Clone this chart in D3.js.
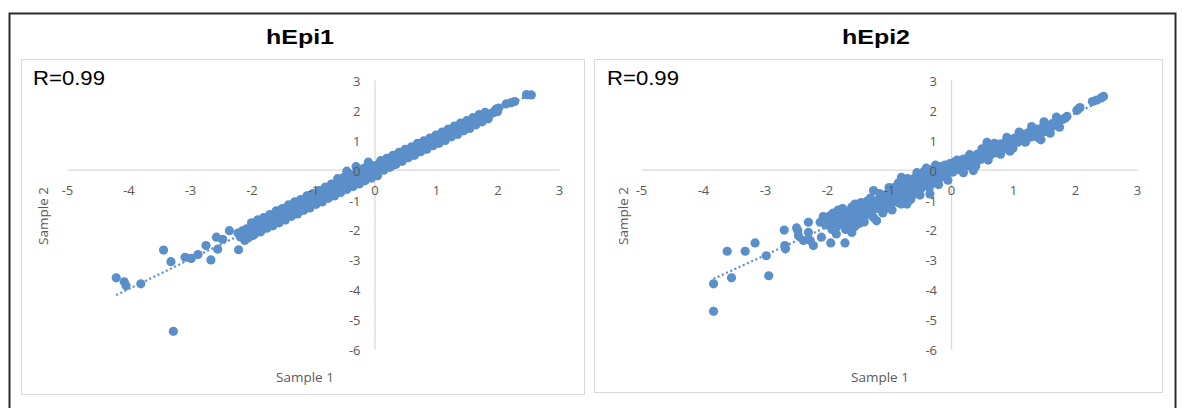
<!DOCTYPE html>
<meta charset="utf-8">
<style>
  body { margin: 0; background: #ffffff; }
  .ttl { font-family: "Liberation Sans", Arial, sans-serif; font-weight: bold; fill: #000; }
  .rlab { font-family: "Liberation Sans", Arial, sans-serif; fill: #000; }
  .axis text { font-family: "Open Sans", sans-serif; font-size: 13px; fill: #595959; }
  .axis .domain { stroke: #d9d9d9; stroke-width: 1.3; }
  .atitle { font-family: "Open Sans", sans-serif; font-size: 13.5px; fill: #595959; }
</style>
<body>
<script src="https://d3js.org/d3.v7.min.js"></script>
<script>
// tick labels
var xTicks = [-5, -4, -3, -2, -1, 0, 1, 2, 3];
var yTicks = [3, 2, 1, 0, -1, -2, -3, -4, -5, -6];
var panelTitles = ["hEpi1", "hEpi2"];
var rLabels = ["R=0.99", "R=0.99"];

// sample 1 vs sample 2
var hEpi1Points = [
  [-4.2,-3.62],[-4.07,-3.75],[-4.04,-3.88],[-3.8,-3.82],[-3.43,-2.69],[-3.31,-3.08],
  [-3.27,-5.41],[-3.08,-2.93],[-2.98,-2.97],[-2.87,-2.84],[-2.74,-2.54],[-2.66,-3.02],
  [-2.57,-2.26],[-2.55,-2.66],[-2.47,-2.33],[-2.36,-2.04],[-2.21,-2.68],[-2.11,-2.37],
  [-1.98,-2.2],
  [-2.22,-2.12],[-2.18,-2.25],[-2.15,-2.05],[-2.12,-2.18],[-2.08,-1.98],[-2.05,-2.1],
  [-2.02,-2.22],[-1.98,-1.92],[-1.95,-2.04],[-1.92,-1.88],[-1.88,-1.98],[-1.85,-1.82],
  [-1.82,-1.93],[-1.78,-1.74],[-1.75,-1.86],[-1.72,-1.7],[-1.7,-1.62],[-1.68,-1.8],
  [-1.65,-1.66],[-1.62,-1.55],[-1.6,-1.72],[-1.57,-1.6],[-1.55,-1.48],[-1.52,-1.62],
  [-1.5,-1.54],[-1.47,-1.42],[-1.45,-1.56],[-1.42,-1.38],[-1.4,-1.5],[-1.37,-1.3],
  [-1.35,-1.44],[-1.32,-1.34],[-1.3,-1.24],[-1.27,-1.38],[-1.25,-1.2],[-1.22,-1.3],
  [-1.2,-1.16],[-1.17,-1.26],[-1.15,-1.1],[-1.12,-1.2],[-1.1,-1.04],[-1.07,-1.16],
  [-1.05,-1.0],[-1.02,-1.08],[-1.0,-0.96],[-0.98,-1.05],[-0.95,-0.9],[-0.92,-1.0],
  [-0.9,-0.84],[-0.88,-0.95],[-0.85,-0.8],[-0.82,-0.9],[-0.8,-0.76],[-0.78,-0.86],
  [-0.75,-0.7],[-0.72,-0.8],[-0.7,-0.64],[-0.68,-0.76],[-0.65,-0.6],[-0.62,-0.7],
  [-0.6,-0.54],[-0.58,-0.66],[-0.55,-0.48],[-0.52,-0.6],[-0.5,-0.42],[-0.48,-0.55],
  [-0.45,-0.36],[-0.42,-0.5],[-0.4,-0.3],[-0.38,-0.45],[-0.35,-0.22],[-0.32,-0.4],
  [-0.3,-0.12],[-0.28,-0.34],[-0.25,-0.05],[-0.22,-0.28],[-0.2,0.02],[-0.18,-0.2],
  [-0.15,0.06],[-0.12,-0.14],[-0.1,0.1],[-0.08,-0.06],[-0.05,0.14],[-0.02,0.02],
  [-0.3,0.1],[-0.1,0.25],[0.05,-0.2],[-0.45,-0.05],[0.15,0.0],[0.3,0.15],[-0.6,-0.3],[-0.2,-0.4],
  [0.0,0.12],[0.02,-0.02],[0.05,0.16],[0.08,0.04],[0.1,0.2],[0.12,0.08],[0.15,0.24],
  [0.18,0.12],[0.2,0.28],[0.22,0.16],[0.25,0.32],[0.28,0.2],[0.3,0.36],[0.33,0.26],
  [0.35,0.42],[0.38,0.3],[0.4,0.46],[0.43,0.36],[0.45,0.5],[0.48,0.4],[0.5,0.56],
  [0.53,0.46],[0.55,0.6],[0.58,0.5],[0.6,0.66],[0.63,0.56],[0.65,0.7],[0.68,0.6],
  [0.7,0.76],[0.73,0.66],[0.75,0.8],[0.78,0.7],[0.8,0.86],[0.83,0.76],[0.85,0.9],
  [0.88,0.8],[0.9,0.96],[0.93,0.86],[0.95,1.0],[0.98,0.9],[1.0,1.06],[1.03,0.96],
  [1.05,1.1],[1.08,1.0],[1.1,1.16],[1.13,1.06],[1.15,1.18],[1.18,1.1],[1.2,1.24],
  [1.23,1.14],[1.25,1.28],[1.28,1.2],[1.3,1.32],[1.33,1.24],[1.35,1.38],[1.38,1.28],
  [1.4,1.42],[1.43,1.34],[1.45,1.46],[1.48,1.38],[1.5,1.5],[1.53,1.44],[1.55,1.55],
  [1.58,1.5],[1.6,1.6],[1.63,1.54],[1.66,1.66],[1.7,1.64],[1.73,1.72],[1.76,1.7],
  [1.8,1.78],[1.84,1.8],[1.88,1.86],[1.92,1.9],[1.95,1.96],[1.98,2.03],[2.0,1.94],
  [2.02,2.06],[2.14,2.2],[2.22,2.24],[2.28,2.28],[2.47,2.51],[2.55,2.5],
  // upper and lower edge of the band
  [-2.0,-1.78],[-1.9,-1.68],[-1.8,-1.6],[-1.7,-1.5],[-1.6,-1.38],[-1.5,-1.3],[-1.4,-1.18],
  [-1.3,-1.08],[-1.2,-1.0],[-1.1,-0.88],[-1.0,-0.8],[-0.9,-0.7],[-0.8,-0.58],[-0.7,-0.48],
  [-0.6,-0.38],[-0.5,-0.26],[-0.4,-0.16],
  [-2.05,-2.28],[-1.95,-2.16],[-1.85,-2.08],[-1.75,-1.96],[-1.65,-1.88],[-1.55,-1.78],
  [-1.45,-1.68],[-1.35,-1.56],[-1.25,-1.48],[-1.15,-1.36],[-1.05,-1.28],[-0.95,-1.16],
  [-0.85,-1.08],[-0.75,-0.96],[-0.65,-0.88],[-0.55,-0.76],[-0.45,-0.66],[-0.35,-0.56],
  [-0.25,-0.48],[-0.15,-0.36],[-0.05,-0.28],
  [0.1,0.3],[0.2,0.38],[0.3,0.48],[0.4,0.58],[0.5,0.68],[0.6,0.76],[0.7,0.88],[0.8,0.96],
  [0.9,1.06],[1.0,1.16],[1.1,1.26],[1.2,1.36],[1.3,1.46],[1.4,1.56],[1.5,1.64],[1.6,1.74],
  [1.7,1.84],[1.8,1.92],
  [0.05,-0.12],[0.15,-0.02],[0.25,0.08],[0.35,0.18],[0.45,0.28],[0.55,0.4],[0.65,0.48],
  [0.75,0.6],[0.85,0.68],[0.95,0.8],[1.05,0.88],[1.15,0.98],[1.25,1.1],[1.35,1.18],
  [1.45,1.3],[1.55,1.38],[1.65,1.5],[1.75,1.6],[1.85,1.7]
];

var hEpi2Points = [
  [-3.83,-4.74],[-3.83,-3.82],[-3.54,-3.62],[-3.61,-2.73],[-3.32,-2.73],[-3.16,-2.45],
  [-2.98,-2.88],[-2.94,-3.55],[-2.69,-2.02],[-2.68,-2.54],[-2.67,-2.65],[-2.49,-1.95],
  [-2.46,-2.21],[-2.38,-2.37],[-2.3,-1.76],[-2.3,-2.1],[-2.22,-2.54],[-2.27,-2.37],
  [-2.09,-2.26],[-1.94,-2.45],[-1.71,-2.45],[-1.6,-2.1],[-2.11,-1.76],[-2.47,-2.04],
  [-2.06,-1.57],[-2.02,-1.85],[-1.98,-1.68],[-1.95,-1.54],[-1.92,-2.0],[-1.9,-1.78],
  [-1.86,-1.62],[-1.84,-1.9],[-1.82,-1.35],[-1.8,-1.7],[-1.76,-1.82],[-1.74,-1.5],
  [-1.7,-1.62],[-1.68,-1.92],[-1.65,-1.4],[-1.62,-1.74],[-1.58,-1.55],[-1.55,-1.15],
  [-1.52,-1.64],[-1.5,-1.38],[-1.48,-1.8],[-1.45,-1.45],[-1.42,-1.25],[-1.4,-1.6],
  [-1.37,-1.35],[-1.35,-1.05],[-1.32,-1.48],[-1.3,-1.2],[-1.28,-1.4],[-1.25,-0.7],
  [-1.24,-1.1],[-1.2,-1.71],[-1.2,-1.3],[-1.17,-1.0],[-1.15,-1.2],[-1.12,-0.9],
  [-1.1,-1.1],[-1.08,-1.34],[-1.05,-0.85],[-1.02,-1.05],[-1.0,-0.75],[-0.98,-1.2],
  [-0.95,-0.92],[-0.92,-0.6],[-0.9,-1.0],[-0.88,-0.8],[-0.85,-1.1],[-0.82,-0.55],
  [-0.8,-0.26],[-0.8,-0.88],[-0.78,-0.7],[-0.75,-1.0],[-0.72,-0.5],[-0.71,-1.15],
  [-0.7,-0.78],[-0.67,-0.4],[-0.65,-0.62],[-0.62,-0.85],[-0.6,-0.3],[-0.58,-0.55],
  [-0.55,-0.72],[-0.52,-0.2],[-0.5,-0.45],[-0.48,-0.62],[-0.45,-0.09],[-0.42,-0.3],
  [-0.4,-0.5],[-0.38,-0.15],[-0.35,-0.38],[-0.34,-0.81],[-0.32,0.0],[-0.3,-0.22],
  [-0.28,-0.45],[-0.25,0.05],[-0.22,-0.15],[-0.2,-0.32],[-0.18,0.1],[-0.15,-0.05],
  [-0.12,-0.22],[-0.1,0.15],[-0.08,0.02],[-0.05,-0.12],[-0.02,0.2],[0.0,0.05],
  [0.03,-0.08],[0.05,0.25],[0.08,0.12],[0.1,0.0],[0.12,0.3],[0.15,0.18],[0.18,0.08],
  [0.2,0.35],[0.22,0.22],[0.25,0.12],[0.28,0.4],[0.3,0.28],[0.33,0.2],[0.36,-0.03],
  [0.36,0.45],[0.38,0.34],[0.4,0.28],[0.43,0.52],[0.45,0.42],[0.48,0.34],[0.5,0.58],
  [0.52,0.48],[0.55,0.42],[0.58,0.91],[0.58,0.64],[0.6,0.54],[0.63,0.48],[0.65,0.72],
  [0.68,0.62],[0.7,0.56],[0.72,0.78],[0.75,0.68],[0.78,0.64],[0.8,0.86],[0.82,0.76],
  [0.85,0.7],[0.88,0.92],[0.9,0.84],[0.93,0.78],[0.95,1.0],[0.98,0.9],[1.0,0.86],
  [1.03,1.06],[1.05,0.98],[1.08,0.92],[1.1,1.12],[1.13,1.04],[1.15,0.98],[1.18,1.18],
  [1.2,1.1],[1.23,1.04],[1.25,1.24],[1.28,1.16],[1.3,1.1],[1.33,1.3],[1.35,1.22],
  [1.38,1.16],[1.4,1.36],[1.43,1.28],[1.45,1.22],[1.48,1.42],[1.5,1.34],[1.53,1.28],
  [1.55,1.48],[1.58,1.4],[1.6,1.36],[1.63,1.54],[1.66,1.48],[1.7,1.6],[1.73,1.54],
  [1.76,1.66],[1.8,1.68],[1.84,1.72],[1.87,1.78],[2.03,1.98],[2.08,2.08],[2.05,2.02],
  [2.28,2.28],[2.35,2.33],[2.42,2.4],[2.46,2.45],
  // wider spread of the band
  [-1.9,-1.45],[-1.75,-1.3],[-1.6,-1.25],[-1.45,-1.1],[-1.3,-0.95],[-1.15,-0.8],[-1.0,-0.6],
  [-0.85,-0.45],[-0.7,-0.3],[-0.55,-0.1],[-0.4,0.05],[-0.25,0.15],
  [-1.85,-2.15],[-1.7,-2.0],[-1.55,-1.9],[-1.4,-1.75],[-1.25,-1.6],[-1.1,-1.45],[-0.95,-1.35],
  [-0.8,-1.15],[-0.65,-1.0],[-0.5,-0.85],[-0.35,-0.6],[-0.2,-0.5],[-0.05,-0.35],
  [0.1,0.32],[0.3,0.5],[0.5,0.7],[0.7,0.88],[0.9,1.08],[1.1,1.26],[1.3,1.44],[1.5,1.6],
  [1.7,1.76],[0.2,-0.1],[0.4,0.12],[0.6,0.32],[0.8,0.52],[1.0,0.72],[1.2,0.92],[1.4,1.08],
  [1.6,1.22],[1.75,1.42],[0.95,0.62],[1.45,1.0]
];

var panelData = [hEpi1Points, hEpi2Points];

var W = 1182, H = 408;
var dotColor = "#5b8fca";

// layout of the two chart boxes
var panels = [
  { box: [21, 59, 584, 394], xr: [67, 559], titleX: 300, rX: 33, xTitleX: 305, yTitleX: 48 },
  { box: [594, 59, 1162, 392], xr: [641, 1137], titleX: 876, rX: 607, xTitleX: 880, yTitleX: 628 }
];

var svg = d3.select("body").append("svg")
    .attr("width", W)
    .attr("height", H);

svg.append("rect")
    .attr("x", 9.5).attr("y", 13.5)
    .attr("width", 1166).attr("height", 430)
    .attr("fill", "#fff")
    .attr("stroke", "#2b2b2b")
    .attr("stroke-width", 2);

// plain hyphen minus, like the original
var fmt = function(d) { return String(d); };

panels.forEach(function(p, i) {
  var pts = panelData[i];
  var x = d3.scaleLinear().domain([-5, 3]).range(p.xr);
  var y = d3.scaleLinear().domain([-6, 3]).range([349, 80]);
  var g = svg.append("g");

  g.append("rect")
      .attr("x", p.box[0] + 0.5).attr("y", p.box[1] + 0.5)
      .attr("width", p.box[2] - p.box[0]).attr("height", p.box[3] - p.box[1])
      .attr("fill", "#fff")
      .attr("stroke", "#d9d9d9");

  g.append("text")
      .attr("class", "ttl")
      .attr("x", p.titleX).attr("y", 44)
      .attr("text-anchor", "middle")
      .attr("font-size", 21)
      .attr("textLength", 68)
      .attr("lengthAdjust", "spacingAndGlyphs")
      .text(panelTitles[i]);

  g.append("text")
      .attr("class", "rlab")
      .attr("x", p.rX).attr("y", 85)
      .attr("font-size", 21)
      .attr("textLength", 72)
      .attr("lengthAdjust", "spacingAndGlyphs")
      .text(rLabels[i]);

  var xAxis = d3.axisBottom(x).tickValues(xTicks).tickFormat(fmt)
      .tickSize(0).tickSizeOuter(0).tickPadding(16);
  var yAxis = d3.axisLeft(y).tickValues(yTicks).tickFormat(fmt)
      .tickSize(0).tickSizeOuter(0).tickPadding(14);

  // axis lines under the markers
  g.append("g").attr("class", "axis")
      .attr("transform", "translate(0," + y(0) + ")")
      .call(xAxis)
      .selectAll(".tick").remove();
  g.append("g").attr("class", "axis")
      .attr("transform", "translate(" + x(0) + ",0)")
      .call(yAxis)
      .selectAll(".tick").remove();

  // linear trendline
  var mx = d3.mean(pts, function(d) { return d[0]; });
  var my = d3.mean(pts, function(d) { return d[1]; });
  var sxy = d3.sum(pts, function(d) { return (d[0] - mx) * (d[1] - my); });
  var sxx = d3.sum(pts, function(d) { return (d[0] - mx) * (d[0] - mx); });
  var slope = sxy / sxx, icpt = my - slope * mx;
  var ext = d3.extent(pts, function(d) { return d[0]; });

  g.append("line")
      .attr("x1", x(ext[0])).attr("y1", y(slope * ext[0] + icpt))
      .attr("x2", x(ext[1])).attr("y2", y(slope * ext[1] + icpt))
      .attr("stroke", dotColor)
      .attr("stroke-width", 2.2)
      .attr("stroke-dasharray", "2,2.6");

  g.append("g").selectAll("circle")
      .data(pts)
      .enter().append("circle")
      .attr("cx", function(d) { return x(d[0]); })
      .attr("cy", function(d) { return y(d[1]); })
      .attr("r", 4.6)
      .attr("fill", dotColor);

  // tick labels sit on top of the markers
  var xl = g.append("g").attr("class", "axis")
      .attr("transform", "translate(0," + y(0) + ")")
      .call(xAxis);
  xl.select(".domain").remove();
  var yl = g.append("g").attr("class", "axis")
      .attr("transform", "translate(" + x(0) + ",0)")
      .call(yAxis);
  yl.select(".domain").remove();
  yl.selectAll("text").attr("dy", "0.42em");

  g.append("text")
      .attr("class", "atitle")
      .attr("x", p.xTitleX).attr("y", 382)
      .attr("text-anchor", "middle")
      .text("Sample 1");

  g.append("text")
      .attr("class", "atitle")
      .attr("transform", "translate(" + p.yTitleX + ",216) rotate(-90)")
      .attr("text-anchor", "middle")
      .text("Sample 2");
});
</script>
</body>
</html>
